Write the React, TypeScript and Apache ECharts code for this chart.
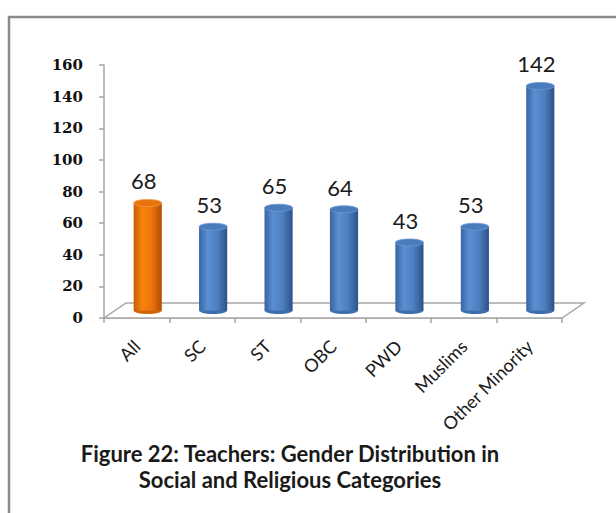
import React, { useEffect, useRef } from "react";
import * as echarts from "echarts";

const categories = ["All", "SC", "ST", "OBC", "PWD", "Muslims", "Other Minority"];
const values = [68, 53, 65, 64, 43, 53, 142];
const highlightIndex = 0;
const yTicks = { min: 0, max: 160, interval: 20 };
const titleLines = [
  "Figure 22: Teachers: Gender Distribution in",
  "Social and Religious Categories",
];

const DEPTH_X = 22;
const DEPTH_Y = -15;

const blueGrad = () =>
  new echarts.graphic.LinearGradient(0, 0, 1, 0, [
    { offset: 0, color: "#3764a0" },
    { offset: 0.3, color: "#5b8fd3" },
    { offset: 0.65, color: "#4d7ec0" },
    { offset: 1, color: "#2b5287" },
  ]);
const orangeGrad = () =>
  new echarts.graphic.LinearGradient(0, 0, 1, 0, [
    { offset: 0, color: "#c85a06" },
    { offset: 0.3, color: "#f7850f" },
    { offset: 0.65, color: "#ec730c" },
    { offset: 1, color: "#b04c04" },
  ]);

export default function App() {
  const ref = useRef<HTMLDivElement>(null);
  useEffect(() => {
    if (!ref.current) return;
    const chart = echarts.init(ref.current, null, { renderer: "svg" });
    const option: any = {
      animation: false,
      backgroundColor: "#ffffff",
      grid: { left: 104, right: 54, top: 65, bottom: 195 },
      graphic: [
        {
          type: "rect",
          shape: { x: 9, y: 17, width: 700, height: 600 },
          style: { fill: "none", stroke: "#8a8a8a", lineWidth: 2.5 },
          silent: true,
        },
        ...titleLines.map((line, i) => ({
          type: "text",
          style: {
            text: line,
            x: 290,
            y: 453 + i * 26,
            font: "bold 22px Lato, 'Open Sans', sans-serif",
            fill: "#1a1a1a",
            align: "center",
            verticalAlign: "middle",
          },
          silent: true,
        })),
      ],
      xAxis: {
        type: "category",
        data: categories,
        boundaryGap: true,
        axisLine: { show: true, lineStyle: { color: "#a6a6a6", width: 1.5 } },
        axisTick: { show: true, length: 5, lineStyle: { color: "#a6a6a6", width: 1.5 } },
        axisLabel: {
          rotate: 45,
          margin: 25,
          fontSize: 18,
          fontFamily: "Lato, 'Open Sans', sans-serif",
          color: "#1a1a1a",
          interval: 0,
        },
        splitLine: { show: false },
      },
      yAxis: {
        type: "value",
        min: yTicks.min,
        max: yTicks.max,
        interval: yTicks.interval,
        axisLine: { show: true, lineStyle: { color: "#a6a6a6", width: 1.5 } },
        axisTick: { show: true, length: 5, lineStyle: { color: "#a6a6a6", width: 1.5 } },
        axisLabel: {
          margin: 21,
          fontSize: 15,
          fontWeight: "bold",
          fontFamily: "'DejaVu Serif', serif",
          color: "#111",
        },
        splitLine: { show: false },
      },
      series: [
        {
          type: "custom",
          z: 1,
          silent: true,
          data: [0],
          renderItem: (params: any) => {
            const cs = params.coordSys;
            const x0 = cs.x;
            const x1 = cs.x + cs.width;
            const y0 = cs.y + cs.height;
            return {
              type: "polygon",
              shape: {
                points: [
                  [x0, y0],
                  [x1, y0],
                  [x1 + DEPTH_X, y0 + DEPTH_Y],
                  [x0 + DEPTH_X, y0 + DEPTH_Y],
                ],
              },
              style: { fill: "#ffffff", stroke: "#a6a6a6", lineWidth: 1.5 },
            };
          },
        },
        {
          type: "custom",
          z: 3,
          data: values.map((v, i) => [i, v]),
          encode: { x: 0, y: 1 },
          renderItem: (params: any, api: any) => {
            const idx = api.value(0);
            const val = api.value(1);
            const base = api.coord([idx, 0]);
            const top = api.coord([idx, val]);
            const w = api.size([1, 0])[0] * 0.43;
            const cx = base[0] + DEPTH_X / 2;
            const yb = base[1] + DEPTH_Y / 2;
            const yt = top[1] + DEPTH_Y / 2;
            const rx = w / 2;
            const ry = 3.5;
            const isHi = params.dataIndex === highlightIndex;
            const body = isHi ? orangeGrad() : blueGrad();
            const topFill = isHi ? "#e8720c" : "#4a7bbd";
            const bottomFill = isHi ? "#d0650a" : "#3f6eac";
            return {
              type: "group",
              children: [
                {
                  type: "ellipse",
                  shape: { cx, cy: yb, rx, ry },
                  style: { fill: bottomFill },
                },
                {
                  type: "rect",
                  shape: { x: cx - rx, y: yt, width: w, height: yb - yt },
                  style: { fill: body },
                },
                {
                  type: "ellipse",
                  shape: { cx, cy: yt, rx, ry },
                  style: { fill: topFill, stroke: isHi ? "#f59a45" : "#6d98d2", lineWidth: 0.8 },
                },
                {
                  type: "text",
                  style: {
                    text: String(val),
                    x: cx - 4,
                    y: yt - 11,
                    align: "center",
                    verticalAlign: "bottom",
                    font: "22px Lato, 'Open Sans', sans-serif",
                    fill: "#1a1a1a",
                  },
                },
              ],
            };
          },
        },
      ],
    };
    chart.setOption(option);
    return () => chart.dispose();
  }, []);
  return (
    <div
      ref={ref}
      style={{ position: "absolute", left: 0, top: 0, width: 616, height: 513 }}
    />
  );
}
